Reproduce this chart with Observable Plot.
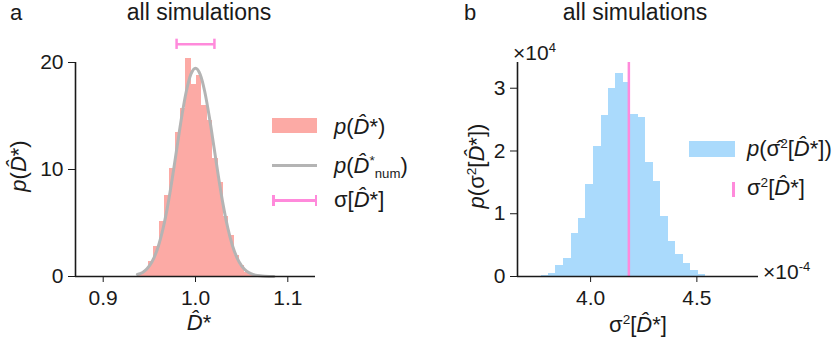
<!DOCTYPE html>
<html><head><meta charset="utf-8">
<script src="https://cdn.jsdelivr.net/npm/d3@7"></script>
<script src="https://cdn.jsdelivr.net/npm/@observablehq/plot@0.6"></script>
<style>
body{margin:0;background:#fff;}
#wrap{position:relative;width:832px;height:344px;overflow:hidden;font-family:"Liberation Sans",Arial,sans-serif;color:#1a1a1a;}
.p{position:absolute;top:0;}
.t{position:absolute;font-size:22px;white-space:nowrap;line-height:1;}
.c{transform:translate(-50%,-50%);}
.l{transform:translate(0,-50%);}
.r{transform:translate(-50%,-50%) rotate(-90deg);}
.ttl{line-height:0.85;}
.sw{position:absolute;}
sup{font-size:0.62em;vertical-align:0.6em;line-height:0;}
sub{font-size:0.6em;vertical-align:-0.35em;line-height:0;}
</style></head><body><div id="wrap"></div>
<script>
// ---------- Panel a data ----------
const histAEdges = [0.9374, 0.9432, 0.9490, 0.9548, 0.9606, 0.9664, 0.9722, 0.9780, 0.9838, 0.9896, 0.9954, 1.0012, 1.0070, 1.0128, 1.0186, 1.0244, 1.0302, 1.0360, 1.0418, 1.0476, 1.0534, 1.0592, 1.0650];
const histAHeights = [0.3, 0.6, 1.4, 2.8, 5.1, 7.6, 10.1, 13.5, 15.7, 20.4, 17.9, 18.8, 16.0, 14.6, 11.0, 8.8, 5.6, 3.8, 2.0, 1.0, 0.4, 0.15];
const curveAX = [0.937, 0.940, 0.945, 0.950, 0.955, 0.960, 0.965, 0.970, 0.975, 0.980, 0.985, 0.990, 0.995, 1.000, 1.005, 1.010, 1.015, 1.020, 1.025, 1.030, 1.035, 1.040, 1.045, 1.050, 1.055, 1.060, 1.065, 1.070, 1.075, 1.080, 1.085];
const curveAY = [0.19, 0.27, 0.53, 1.0, 1.75, 2.9, 4.53, 6.67, 9.26, 12.1, 14.9, 17.29, 18.9, 19.47, 18.9, 17.29, 14.9, 12.1, 9.26, 6.67, 4.53, 2.9, 1.75, 1.0, 0.53, 0.27, 0.13, 0.06, 0.025, 0.01, 0.004];
const sigmaCenter = 1.0, sigmaHalf = 0.0205, sigmaBarY = 21.7;
const ticksAX = [0.9, 1.0, 1.1], ticksAY = [0, 10, 20];

// ---------- Panel b data (x in 1e-4, y in 1e4) ----------
const histBEdges = [3.767, 3.802, 3.837, 3.873, 3.908, 3.943, 3.978, 4.013, 4.049, 4.084, 4.119, 4.154, 4.189, 4.225, 4.260, 4.295, 4.330, 4.366, 4.401, 4.436, 4.471, 4.506, 4.541];
const histBHeights = [0.01, 0.04, 0.18, 0.28, 0.68, 0.93, 1.47, 2.07, 2.57, 3.0, 3.23, 3.09, 2.58, 2.53, 1.82, 1.52, 0.96, 0.56, 0.35, 0.20, 0.10, 0.03];
const trueVar = 4.18;
const ticksBX = [4.0, 4.5], ticksBY = [0, 1, 2, 3];

const pink = "#fcaaa5", gray = "#b4b4b4", magenta = "#ff8adb", blue = "#aadafc", ink = "#1a1a1a";
const style = {fontFamily:"Liberation Sans, Arial, sans-serif", fontSize:"21px", color:ink, overflow:"visible", background:"transparent"};

const rowsA = histAHeights.map((h,i)=>({x1:histAEdges[i], x2:histAEdges[i+1], h}));
const curveA = curveAX.map((x,i)=>({x, y:curveAY[i]}));
const plotA = Plot.plot({
  width:416, height:344, marginLeft:75, marginRight:101, marginTop:62, marginBottom:68,
  x:{domain:[0.87,1.13]}, y:{domain:[0,20]}, style,
  marks:[
    Plot.rectY(rowsA,{x1:"x1",x2:"x2",y:"h",fill:pink,inset:0,shapeRendering:"crispEdges"}),
    Plot.line(curveA,{x:"x",y:"y",stroke:gray,strokeWidth:3,curve:"monotone-x"}),
    Plot.ruleY([{y:sigmaBarY,a:sigmaCenter-sigmaHalf,b:sigmaCenter+sigmaHalf}],{y:"y",x1:"a",x2:"b",stroke:magenta,strokeWidth:2.5}),
    Plot.ruleX([sigmaCenter-sigmaHalf, sigmaCenter+sigmaHalf],{x:d=>d,y1:sigmaBarY-0.48,y2:sigmaBarY+0.48,stroke:magenta,strokeWidth:2.5}),
    Plot.ruleX([0.87],{stroke:ink,strokeWidth:1.6}),
    Plot.ruleY([0],{stroke:ink,strokeWidth:1.6}),
    Plot.axisY({ticks:ticksAY,tickSize:7,tickPadding:5,label:null,tickFormat:d3.format("d")}),
    Plot.axisX({ticks:ticksAX,tickSize:6,tickPadding:8,label:null,tickFormat:d3.format(".1f")})
  ]
});

const rowsB = histBHeights.map((h,i)=>({x1:histBEdges[i], x2:histBEdges[i+1], h}));
const plotB = Plot.plot({
  width:416, height:344, marginLeft:101, marginRight:74, marginTop:62, marginBottom:68,
  x:{domain:[3.656,4.79]}, y:{domain:[0,3.41]}, style,
  marks:[
    Plot.rectY(rowsB,{x1:"x1",x2:"x2",y:"h",fill:blue,inset:0,shapeRendering:"crispEdges"}),
    Plot.ruleX([trueVar],{stroke:magenta,strokeWidth:2.5}),
    Plot.ruleX([3.656],{stroke:ink,strokeWidth:1.6}),
    Plot.ruleY([0],{stroke:ink,strokeWidth:1.6}),
    Plot.axisY({ticks:ticksBY,tickSize:7,tickPadding:5,label:null,tickFormat:d3.format("d")}),
    Plot.axisX({ticks:ticksBX,tickSize:6,tickPadding:8,label:null,tickFormat:d3.format(".1f")})
  ]
});

const wrap = document.getElementById("wrap");
plotA.classList.add("p"); plotA.style.left="0px";
plotB.classList.add("p"); plotB.style.left="416px";
wrap.appendChild(plotA); wrap.appendChild(plotB);

const D = '<i>D\u0302</i>';
const Dh = D + '*';
const sig2 = 'σ<sup>2</sup>';
const sigHat2 = 'σ\u0302<sup>2</sup>';
function txt(html, x, y, cls, extra){
  const s=document.createElement("span");
  s.className="t "+cls; s.innerHTML=html;
  s.style.left=x+"px"; s.style.top=y+"px";
  if(extra) Object.assign(s.style, extra);
  wrap.appendChild(s);
}
function box(x,y,w,h,c){
  const d=document.createElement("div"); d.className="sw";
  Object.assign(d.style,{left:x+"px",top:y+"px",width:w+"px",height:h+"px",background:c});
  wrap.appendChild(d);
}
// titles
txt("a", 16, 13, "c ttl");
txt("all simulations", 199, 13, "c ttl", {fontSize:"23px"});
txt("b", 470, 13, "c ttl");
txt("all simulations", 635, 13, "c ttl", {fontSize:"23px"});
// axis labels
txt(Dh, 199, 323, "c");
txt('<i>p</i>('+Dh+')', 19, 166, "r");
txt(sig2+'['+Dh+']', 638, 325, "c");
txt('<i>p</i>('+sig2+'['+Dh+'])', 477, 166, "r");
txt('×10<sup>4</sup>', 513, 52, "l", {fontSize:"21px"});
txt('×10<sup>-4</sup>', 763, 271, "l", {fontSize:"21px"});
// legend a
box(272,118,45,15,pink);
txt('<i>p</i>('+Dh+')', 334, 127, "l");
box(272,163.5,45,3,gray);
txt('<i>p</i>('+D+'<sup>*</sup><sub>num</sub>)', 334, 166, "l");
box(273,199,43,2.5,magenta);
box(272,194.5,2.5,11,magenta);
box(314.5,194.5,2.5,11,magenta);
txt('σ['+Dh+']', 334, 200, "l");
// legend b
box(689,141,46,16,blue);
txt('<i>p</i>('+sigHat2+'['+Dh+'])', 747, 149, "l");
box(732,182,2.5,15,magenta);
txt(sig2+'['+Dh+']', 747, 188, "l");
</script></body></html>
